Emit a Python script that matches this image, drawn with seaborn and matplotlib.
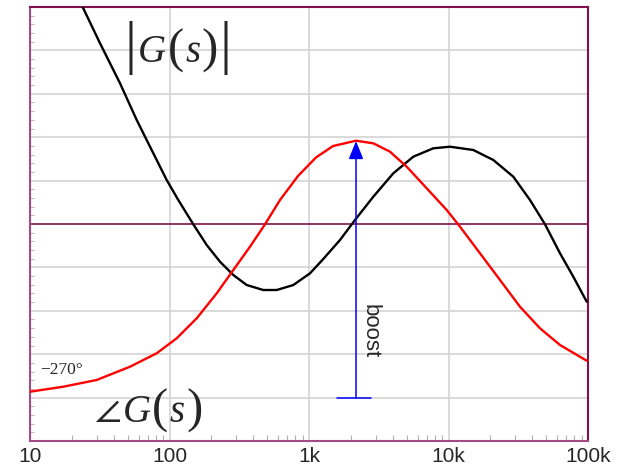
#!/usr/bin/env python3
"""Bode-style sketch: |G(s)| and angle G(s) with the phase boost marked."""

import matplotlib
matplotlib.use("Agg")
import matplotlib.pyplot as plt
import matplotlib.ticker as mticker
from matplotlib.offsetbox import AnchoredOffsetbox, HPacker, TextArea
import numpy as np
import pandas as pd
import seaborn as sns

# ── data (y in grid divisions, 0 = centre line) ──
mag_freq = [22.08, 23.48, 31.76, 44.19, 58.21, 68.63, 80.93, 95.48, 115.6,
            148.1, 184.8, 230.1, 286.7, 357.6, 470.2, 586.8, 771.8, 1017,
            1266, 1668, 2136, 2891, 4021, 5595, 7780, 10250, 15060, 20950,
            29140, 38390, 49180, 63000, 78450, 97880]
mag_val = [5.23, 5.046, 4.164, 3.242, 2.396, 1.935, 1.475, 1.014, 0.553,
           -0.007, -0.484, -0.869, -1.175, -1.406, -1.521, -1.521, -1.406,
           -1.136, -0.806, -0.369, 0.092, 0.629, 1.168, 1.551, 1.744, 1.781,
           1.705, 1.475, 1.090, 0.553, -0.007, -0.675, -1.214, -1.790]

phase_freq = [10, 17.33, 30.07, 52.11, 80.93, 112.6, 156.7, 218.0, 286.7,
              377.7, 483.7, 619.7, 833.8, 1122, 1486, 2173, 2891, 3807, 5016,
              6978, 9707, 12090, 16820, 23400, 32540, 45280, 63000, 97880]
phase_val = [-3.864, -3.749, -3.594, -3.288, -2.979, -2.634, -2.173, -1.597,
             -1.060, -0.523, -0.007, 0.553, 1.106, 1.532, 1.797, 1.919, 1.859,
             1.666, 1.320, 0.823, 0.323, -0.062, -0.675, -1.290, -1.906,
             -2.403, -2.788, -3.150]

boost_freq = 2173
boost_lo, boost_hi = -4.01, 1.91
cap_freq = [1588, 2781]

x_ticks = [10, 100, 1000, 10000, 100000]
x_labels = ["10", "100", "1k", "10k", "100k"]
y_grid = [-5, -4, -3, -2, -1, 0, 1, 2, 3, 4, 5]

FRAME_DARK = "#82104a"
FRAME_LIGHT = "#a24c84"
GRID = "#d4d4d4"
SERIF = ["Liberation Serif", "DejaVu Serif"]


def math_label(ax, parts, xy):
    """Pack serif pieces of different sizes side by side, like a typeset formula."""
    boxes = [TextArea(t, textprops=p) for t, p in parts]
    pack = HPacker(children=boxes, align="baseline", pad=0, sep=1)
    ab = AnchoredOffsetbox(loc="center", child=pack, pad=0, borderpad=0,
                           frameon=False, bbox_to_anchor=xy,
                           bbox_transform=ax.transAxes)
    ax.add_artist(ab)


def main():
    sns.set_style("white")
    plt.rcParams["font.family"] = ["Liberation Sans", "DejaVu Sans"]
    plt.rcParams["mathtext.fontset"] = "stix"

    fig = plt.figure(figsize=(6.27, 4.66), dpi=100)
    ax = fig.add_axes([30 / 627, 25 / 466, 558 / 627, 434 / 466])

    mag = pd.DataFrame({"f": mag_freq, "v": mag_val})
    ph = pd.DataFrame({"f": phase_freq, "v": phase_val})

    ax.set_xscale("log")
    ax.set_xlim(10, 100000)
    ax.set_ylim(-5, 5)

    # grid
    for y in y_grid:
        if y == 0:
            continue
        ax.axhline(y, color=GRID, lw=1.2, zorder=0)
    for x in x_ticks[1:-1]:
        ax.axvline(x, color=GRID, lw=1.2, zorder=0)
    ax.axhline(0, color=FRAME_DARK, lw=1.2, zorder=1)

    sns.lineplot(data=mag, x="f", y="v", ax=ax, color="black", lw=1.7,
                 estimator=None, sort=False, zorder=3,
                 solid_joinstyle="round")
    sns.lineplot(data=ph, x="f", y="v", ax=ax, color="#ff0000", lw=1.7,
                 estimator=None, sort=False, zorder=3,
                 solid_joinstyle="round")

    # boost arrow
    ax.annotate("", xy=(boost_freq, boost_hi), xytext=(boost_freq, boost_lo),
                arrowprops=dict(arrowstyle="-|>,head_length=1.1,head_width=0.45",
                                color="#0000ff", lw=1.1, shrinkA=0, shrinkB=0),
                zorder=4)
    ax.plot(cap_freq, [boost_lo, boost_lo], color="#0000ff", lw=1.1, zorder=4)
    ax.text(0.61, 0.253, "boost", rotation=-90, ha="center", va="center",
            fontsize=16, transform=ax.transAxes)

    # formula labels
    it = dict(family=SERIF, style="italic", fontsize=28)
    par = dict(family=SERIF, fontsize=35)
    bar = dict(family=SERIF, fontsize=43)
    math_label(ax, [("|", bar), ("G", it), ("(", par), ("s", it),
                    (")", par), ("|", bar)], (0.265, 0.905))
    math_label(ax, [(r"$\angle$", dict(fontsize=28)), ("G", it), ("(", par),
                    ("s", it), (")", par)], (0.212, 0.07))
    ax.text(0.056, 0.164, "\u2212270\u00b0", fontsize=12.5, ha="center",
            va="center", family=SERIF, transform=ax.transAxes)

    # ticks
    ax.xaxis.set_major_locator(mticker.FixedLocator(x_ticks))
    ax.xaxis.set_major_formatter(mticker.FixedFormatter(x_labels))
    ax.xaxis.set_minor_locator(mticker.LogLocator(base=10, subs=np.arange(2, 10)))
    ax.xaxis.set_minor_formatter(mticker.NullFormatter())
    ax.yaxis.set_major_locator(mticker.FixedLocator(y_grid))
    ax.yaxis.set_minor_locator(mticker.MultipleLocator(0.2))
    ax.tick_params(axis="x", which="major", length=0, pad=4, labelsize=15)
    ax.tick_params(axis="x", which="minor", direction="in", length=4,
                   width=0.8, color="#b0b0b0", bottom=True)
    ax.tick_params(axis="y", which="major", length=0, labelleft=False)
    ax.tick_params(axis="y", which="minor", direction="in", length=3,
                   width=0.8, color="#d0b0c4", left=True)
    ax.set_xlabel("")
    ax.set_ylabel("")

    for side, col in (("top", FRAME_DARK), ("right", FRAME_DARK),
                      ("left", FRAME_LIGHT), ("bottom", FRAME_LIGHT)):
        ax.spines[side].set_visible(True)
        ax.spines[side].set_color(col)
        ax.spines[side].set_linewidth(1.5)

    fig.savefig("out.png", dpi=100)
    plt.close(fig)


if __name__ == "__main__":
    main()
